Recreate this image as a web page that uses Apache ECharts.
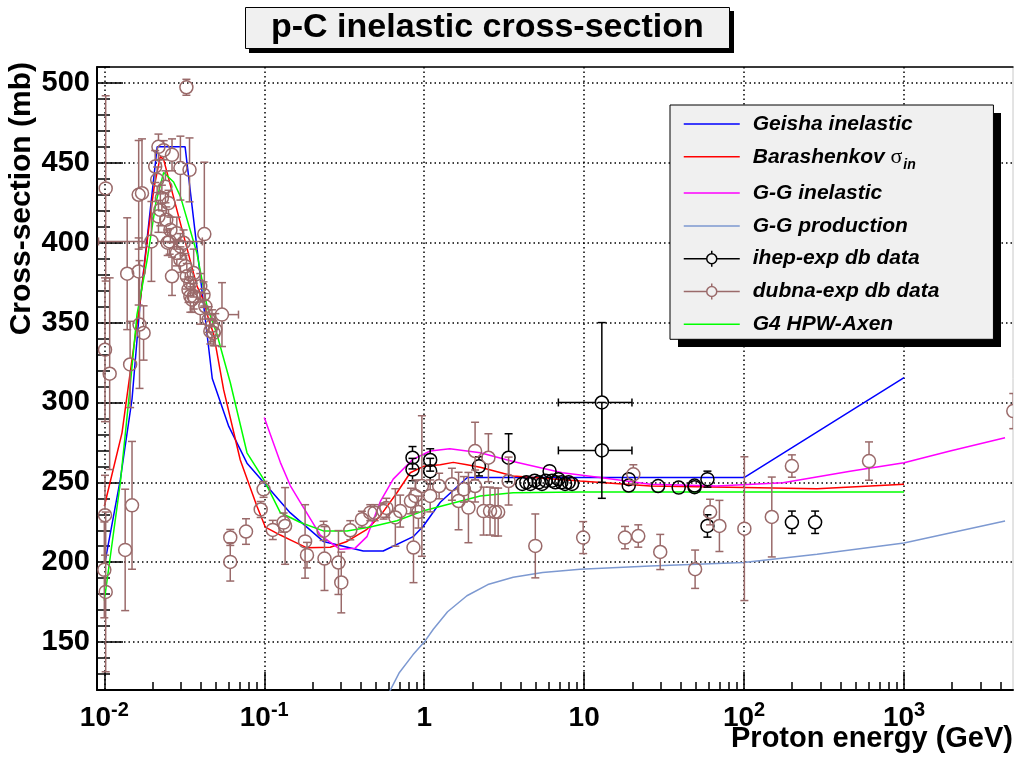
<!DOCTYPE html>
<html>
<head>
<meta charset="utf-8">
<script src="https://cdn.jsdelivr.net/npm/echarts@6/dist/echarts.min.js"></script>
<style>html,body{margin:0;padding:0;background:#fff}#c{width:1015px;height:758px}</style>
</head>
<body>
<div id="c"></div>
<script>
// ---------- data (energies in GeV, cross-sections in mb) ----------
const geishaE = [0.0101, 0.0126, 0.0149, 0.0168, 0.0214, 0.032, 0.0473, 0.06, 0.078, 0.099, 0.145, 0.234, 0.416, 0.554, 0.854, 0.986, 1.26, 1.86, 100, 1000];
const geishaV = [200, 252, 302, 364, 460, 460, 315, 285, 262, 250, 231, 213, 207, 207, 216, 222.5, 237.5, 253, 253, 315.6];

const barashE = [0.01, 0.0129, 0.0148, 0.0168, 0.019, 0.0205, 0.0224, 0.0235, 0.0379, 0.0417, 0.0449, 0.0482, 0.0557, 0.0708, 0.09, 0.1015, 0.126, 0.1454, 0.185, 0.2585, 0.329, 0.4385, 0.531, 0.675, 0.818, 0.99, 1.26, 1.52, 1.85, 2.24, 3.6, 9.44, 25.9, 100, 286, 1000];
const barashV = [235, 281, 325, 364, 410, 435, 454, 452, 373, 364, 352, 343, 308, 264, 235, 222, 217, 214, 209, 209.4, 213, 220.6, 229, 243.5, 256, 260, 261, 262.5, 261, 259.4, 254, 250.8, 247.7, 246.8, 246, 248.8];

const ggInelE = [0.1, 0.126, 0.1454, 0.167, 0.224, 0.2985, 0.37, 0.4385, 0.531, 0.64, 0.85, 1.09, 1.445, 2.24, 3.6, 7.3, 12.6, 25.9, 67.5, 175, 460, 1000, 1940, 4280];
const ggInelV = [290.6, 262.5, 248, 237.9, 216.9, 208.1, 208.8, 216, 237.9, 252, 264.4, 269.6, 271, 268.5, 263, 256, 253, 248.8, 247.7, 249.8, 257, 262.3, 269.6, 277.9];

const ggProdE = [0.6, 0.7, 0.85, 1.0, 1.14, 1.4, 1.85, 2.5, 3.6, 5.5, 9.44, 25.9, 99.4, 286, 1000, 4280];
const ggProdV = [118, 131, 142, 150, 158, 169, 179, 186, 190.6, 193.5, 195.6, 197.7, 199.8, 205, 212, 225.8];

const g4E = [0.01, 0.0126, 0.0145, 0.016, 0.0185, 0.021, 0.0235, 0.0271, 0.0299, 0.0379, 0.0439, 0.0505, 0.0613, 0.078, 0.099, 0.126, 0.1454, 0.167, 0.234, 0.329, 0.46, 0.675, 0.98, 1.38, 2.24, 3.6, 9.44, 100, 1000];
const g4V = [176, 250, 310, 355, 389, 425, 444, 438, 429, 393.6, 360, 343, 312.5, 268.5, 252, 231, 228, 225, 219.6, 219.6, 222, 226, 232, 236, 241.5, 243.5, 244, 244, 244];

const ihepE   = [0.845, 0.845, 1.09, 1.09, 2.2, 3.37, 4.1, 4.35, 4.6, 4.9, 5.2, 5.45, 5.75, 6.08, 6.3, 6.6, 6.9, 7.2, 7.6, 8.0, 8.4, 12.9, 12.9, 19, 19, 29, 39, 49, 49, 59, 59, 199, 278];
const ihepV   = [265.4, 258, 264, 257, 260, 265.4, 249, 250, 249, 251, 250, 249, 251, 257, 251, 250, 252, 250, 249, 250, 249, 300, 270, 252, 248, 247.7, 246.7, 248, 247, 252, 222.7, 225, 225];
const ihepErr = [7, 7, 7, 8, 6, 15, 2, 2, 2, 2, 2, 2, 2, 2, 2, 2, 2, 2, 2, 2, 2, 50, 30, 4, 4, 2, 2, 2, 2, 5, 7, 7, 7];
// horizontal (energy) error bars of the ihep set: index -> [low, high]
const ihepXErrIdx = [21, 22];
const ihepXErrLo  = [6.9, 6.9];
const ihepXErrHi  = [19.9, 19.9];

const dubnaE = [0.0102, 0.0101, 0.0108, 0.0101, 0.0100, 0.0102, 0.0135, 0.0149, 0.0145, 0.0139,
  0.0164, 0.0172, 0.0164, 0.0166, 0.0176, 0.0197, 0.0208, 0.0218, 0.0224, 0.0249,
  0.0265, 0.0299, 0.0341, 0.0326, 0.0422, 0.0544, 0.0362, 0.0345, 0.0398, 0.0235,
  0.0265, 0.0214, 0.0241, 0.0229, 0.0252, 0.0218, 0.0244, 0.0259, 0.0284, 0.0256,
  0.0299, 0.0313, 0.0284, 0.0299, 0.0321, 0.0328, 0.0345, 0.0336, 0.0362, 0.0398,
  0.0417, 0.0353, 0.0428, 0.0449, 0.046, 0.0482, 0.0494, 0.0471, 0.0613, 0.0613,
  0.0769, 0.099, 0.095, 0.113, 0.135, 0.132, 0.18, 0.185, 0.235, 0.238,
  0.291, 0.303, 0.345, 0.408, 0.46, 0.49, 0.557, 0.58, 0.66, 0.708,
  0.826, 0.857, 0.88, 0.92, 0.967, 1.09, 1.24, 1.49, 1.64, 1.77,
  1.89, 2.08, 2.08, 2.35, 2.52, 2.58, 2.77, 2.9, 3.37, 4.95,
  9.86, 18, 20.3, 21.8, 29.9, 49.4, 61.3, 70.1, 100.4, 149,
  199, 604, 4820];
const dubnaV = [434, 333, 318, 229.4, 195.2, 181.4, 207.7, 235.6, 323.8, 380.6,
  430, 431, 382, 348.8, 343.5, 400.8, 447.7, 460, 420.6, 400,
  379, 446.7, 445.6, 497.3, 405.4, 355, 381, 366.5, 359, 457.9,
  455, 439.4, 435, 428, 424.8, 416.5, 414.4, 408, 406, 400.8,
  397.7, 400, 393.5, 389.4, 385.2, 379, 374.8, 370.6, 366.5, 372.7,
  367.5, 364.4, 360.2, 351.9, 344.6, 343.5, 345.6, 348, 215.5, 200.2,
  219.2, 245.6, 233, 220.2, 222.7, 224.8, 213, 204.4, 219.6, 202.3,
  199.8, 187.3, 220, 226.9, 231, 231, 232, 234, 228, 232,
  238.3, 209.2, 241.5, 231.4, 247.7, 241.5, 247.7, 248.8, 238.3, 245.6,
  234.2, 269.6, 247.7, 232, 265.4, 232, 231.4, 231.4, 250.8, 210.2,
  215.4, 215.4, 255, 216.4, 206.4, 195.6, 231.4, 222.7, 221, 228.3,
  260.2, 263.3, 294.6];
const dubnaErr = [58, 45, 60, 25, 30, 50, 38, 40, 27, 35,
  34, 34, 21, 40, 17, 25, 10, 8, 10, 8,
  12, 20, 20, 5, 45, 20, 15, 10, 10, 6,
  10, 8, 10, 8, 8, 10, 8, 8, 10, 8,
  8, 8, 8, 8, 8, 8, 8, 8, 8, 8,
  8, 8, 8, 8, 8, 8, 10, 10, 5, 12,
  8, 5, 5, 6, 24, 6, 23, 8, 6, 20,
  20, 19, 6, 5, 5, 5, 5, 6, 18, 10,
  8, 22, 10, 10, 44, 10, 8, 10, 18, 8,
  22, 18, 10, 15, 15, 15, 15, 15, 15, 20,
  10, 7, 6, 7, 11, 12, 8, 16, 45, 25,
  7, 12, 11];
// horizontal (energy) error bars of the dubna set: index -> [low, high]
const dubnaXErrIdx = [15, 25];
const dubnaXErrLo  = [0.0092, 0.0428];
const dubnaXErrHi  = [0.041, 0.069];

const xMajorTicks = [0.01, 0.1, 1, 10, 100, 1000];
const yMajorTicks = [150, 200, 250, 300, 350, 400, 450, 500];
const xMinorTicks = [];
[-2, -1, 0, 1, 2, 3].forEach(d => { for (let k = 2; k <= 9; k++) { const v = k * Math.pow(10, d); if (v < 4800) xMinorTicks.push(+v.toPrecision(3)); } });

// ---------- styling ----------
const FONT = '"Liberation Sans", Arial, Helvetica, sans-serif';
const BROWN = '#9a6a6a';
const C_GEISHA = '#0000ff', C_BARASH = '#ff0000', C_GGINEL = '#ff00ff', C_GGPROD = '#7d99d1', C_G4 = '#00ff00';
const ERR_ICON = 'path://M0 8H23M33 8H56M28 0V3M28 13V16M23 8A5 5 0 1 1 33 8A5 5 0 1 1 23 8Z';
const LINE_ICON = 'path://M0 7.25H56V8.75H0Z';

const zip = (a, b) => a.map((x, i) => [x, b[i]]);

function errData(E, V, ERR, xIdx, xLo, xHi) {
  return E.map((e, i) => {
    const k = xIdx.indexOf(i);
    return [e, V[i], V[i] - ERR[i], V[i] + ERR[i], k >= 0 ? xLo[k] : e, k >= 0 ? xHi[k] : e];
  });
}

function makeErrRender(color) {
  return function (params, api) {
    const e = api.value(0), v = api.value(1);
    const c = api.coord([e, v]);
    const top = api.coord([e, api.value(3)]);
    const bot = api.coord([e, api.value(2)]);
    const xl = api.coord([api.value(4), v]);
    const xh = api.coord([api.value(5), v]);
    const r = 6.5, cap = 4;
    const kids = [];
    const seg = (x1, y1, x2, y2) => kids.push({ type: 'line', shape: { x1, y1, x2, y2 }, style: { stroke: color, lineWidth: 1.5, fill: null } });
    if (top[1] < c[1] - r) { seg(c[0], c[1] - r, c[0], top[1]); seg(c[0] - cap, top[1], c[0] + cap, top[1]); }
    if (bot[1] > c[1] + r) { seg(c[0], c[1] + r, c[0], bot[1]); seg(c[0] - cap, bot[1], c[0] + cap, bot[1]); }
    if (xl[0] < c[0] - r) { seg(xl[0], c[1], c[0] - r, c[1]); seg(xl[0], c[1] - cap, xl[0], c[1] + cap); }
    if (xh[0] > c[0] + r) { seg(c[0] + r, c[1], xh[0], c[1]); seg(xh[0], c[1] - cap, xh[0], c[1] + cap); }
    kids.push({ type: 'circle', shape: { cx: c[0], cy: c[1], r }, style: { stroke: color, lineWidth: 1.5, fill: 'none' } });
    return { type: 'group', children: kids };
  };
}

function lineSeries(name, color, E, V) {
  return { type: 'line', name, data: zip(E, V), xAxisIndex: 0, yAxisIndex: 0, symbol: 'none', showSymbol: false,
    color, lineStyle: { color, width: 1.5 }, clip: true, z: 3, silent: true, animation: false };
}

const X_MIN = 0.009, X_MAX = 4800, Y_MIN = 120, Y_MAX = 510;

const chart = echarts.init(document.getElementById('c'), null, { renderer: 'canvas' });
chart.setOption({
  animation: false,
  backgroundColor: '#fff',
  title: {
    text: 'p-C inelastic cross-section', left: 245, top: 7, padding: [3, 26, 3, 26],
    backgroundColor: '#f0f0f0', borderColor: '#000', borderWidth: 1,
    textStyle: { fontFamily: FONT, fontWeight: 'bold', fontSize: 34, color: '#000', lineHeight: 36 }
  },
  grid: { left: 97, top: 67, right: 2, bottom: 68, show: true, borderColor: '#c8c8c8', borderWidth: 1, containLabel: false, outerBoundsMode: 'none' },
  legend: {
    orient: 'vertical', left: 670, top: 105, padding: [7, 54, 3, 13],
    itemWidth: 56, itemHeight: 16, itemGap: 8.8,
    backgroundColor: '#f0f0f0', borderColor: '#000', borderWidth: 1,
    selectedMode: false,
    textStyle: {
      fontFamily: FONT, fontSize: 21, fontStyle: 'italic', fontWeight: 'bold', color: '#000', lineHeight: 24, padding: [0, 0, 0, 8],
      rich: {
        sig: { fontFamily: '"Liberation Serif", "DejaVu Serif", serif', fontSize: 22, fontStyle: 'normal', fontWeight: 'normal', color: '#000', lineHeight: 22, height: 22 },
        sub: { fontFamily: FONT, fontSize: 14, fontStyle: 'italic', fontWeight: 'bold', color: '#000', lineHeight: 22, height: 3, verticalAlign: 'top', padding: [19, 0, 0, 1] }
      }
    },
    formatter: name => name === 'Barashenkov σ_in' ? 'Barashenkov {sig|σ}{sub|in}' : name,
    data: [
      { name: 'Geisha inelastic', icon: LINE_ICON },
      { name: 'Barashenkov σ_in', icon: LINE_ICON },
      { name: 'G-G inelastic', icon: LINE_ICON },
      { name: 'G-G production', icon: LINE_ICON },
      { name: 'ihep-exp db data', icon: ERR_ICON, itemStyle: { color: 'rgba(0,0,0,0)', borderColor: '#000', borderWidth: 1.5 } },
      { name: 'dubna-exp db data', icon: ERR_ICON, itemStyle: { color: 'rgba(0,0,0,0)', borderColor: BROWN, borderWidth: 1.5 } },
      { name: 'G4 HPW-Axen', icon: LINE_ICON }
    ]
  },
  xAxis: [
    {
      type: 'log', logBase: 10, min: X_MIN, max: X_MAX, position: 'bottom',
      axisLine: { show: true, lineStyle: { color: '#000', width: 2 } },
      axisTick: { show: true, inside: true, length: 18, lineStyle: { color: '#000', width: 1.5 }, customValues: xMajorTicks },
      axisLabel: {
        customValues: xMajorTicks, margin: 10,
        formatter: v => { const p = Math.round(Math.log10(v)); if (p === 0) return '{b|1}'; if (p === 1) return '{b|10}'; return '{b|10}{s|' + p + '}'; },
        rich: {
          b: { fontFamily: FONT, fontWeight: 'bold', fontSize: 28, color: '#000', lineHeight: 36 },
          s: { fontFamily: FONT, fontWeight: 'bold', fontSize: 20, color: '#000', lineHeight: 18, verticalAlign: 'top' }
        }
      },
      splitLine: { show: true, lineStyle: { color: '#000', width: 1.5, type: [1.5, 3] } },
      minorTick: { show: false }, minorSplitLine: { show: false }
    },
    {
      type: 'log', logBase: 10, min: X_MIN, max: X_MAX, position: 'bottom',
      axisLine: { show: false },
      axisTick: { show: true, inside: true, length: 8, lineStyle: { color: '#000', width: 1.5 }, customValues: xMinorTicks },
      axisLabel: { show: false }, splitLine: { show: false }
    },
    {
      type: 'log', logBase: 10, min: X_MIN, max: X_MAX, position: 'top',
      axisLine: { show: true, lineStyle: { color: '#000', width: 1.5 } },
      axisTick: { show: false }, axisLabel: { show: false }, splitLine: { show: false }
    }
  ],
  yAxis: [
    {
      type: 'value', min: Y_MIN, max: Y_MAX, splitNumber: 8, position: 'left',
      axisLine: { show: true, lineStyle: { color: '#000', width: 2 } },
      axisTick: { show: true, inside: true, length: 26, lineStyle: { color: '#000', width: 1.5 }, customValues: yMajorTicks },
      axisLabel: { customValues: yMajorTicks, margin: 7, fontFamily: FONT, fontWeight: 'bold', fontSize: 29, color: '#000' },
      splitLine: { show: true, lineStyle: { color: '#000', width: 1.5, type: [1.5, 3] } }
    },
    {
      type: 'value', min: Y_MIN, max: Y_MAX, interval: 10, position: 'left',
      axisLine: { show: false },
      axisTick: { show: true, inside: true, length: 13, lineStyle: { color: '#000', width: 1.5 } },
      axisLabel: { show: false }, splitLine: { show: false }
    }
  ],
  graphic: [
    // drop shadows of the title box and the legend box
    { type: 'rect', z: 3, silent: true, shape: { x: 249, y: 11, width: 485, height: 42 }, style: { fill: '#000' } },
    { type: 'rect', z: 3, silent: true, shape: { x: 678, y: 113, width: 323, height: 234 }, style: { fill: '#000' } },
    { type: 'text', x: 22, y: 62, rotation: Math.PI / 2, z: 10,
      style: { text: 'Cross-section (mb)', fontFamily: FONT, fontWeight: 'bold', fontSize: 30, fill: '#000', align: 'right', verticalAlign: 'middle' } },
    { type: 'text', x: 1013, y: 739, z: 10,
      style: { text: 'Proton energy (GeV)', fontFamily: FONT, fontWeight: 'bold', fontSize: 29, fill: '#000', align: 'right', verticalAlign: 'middle' } }
  ],
  series: [
    lineSeries('Geisha inelastic', C_GEISHA, geishaE, geishaV),
    lineSeries('Barashenkov σ_in', C_BARASH, barashE, barashV),
    lineSeries('G-G inelastic', C_GGINEL, ggInelE, ggInelV),
    lineSeries('G-G production', C_GGPROD, ggProdE, ggProdV),
    { type: 'custom', name: 'ihep-exp db data', xAxisIndex: 0, yAxisIndex: 0, clip: true, z: 4, silent: true,
      color: '#000', renderItem: makeErrRender('#000'), encode: { x: 0, y: 1 },
      data: errData(ihepE, ihepV, ihepErr, ihepXErrIdx, ihepXErrLo, ihepXErrHi) },
    { type: 'custom', name: 'dubna-exp db data', xAxisIndex: 0, yAxisIndex: 0, clip: true, z: 4, silent: true,
      color: BROWN, renderItem: makeErrRender(BROWN), encode: { x: 0, y: 1 },
      data: errData(dubnaE, dubnaV, dubnaErr, dubnaXErrIdx, dubnaXErrLo, dubnaXErrHi) },
    lineSeries('G4 HPW-Axen', C_G4, g4E, g4V)
  ]
});
</script>
</body>
</html>
